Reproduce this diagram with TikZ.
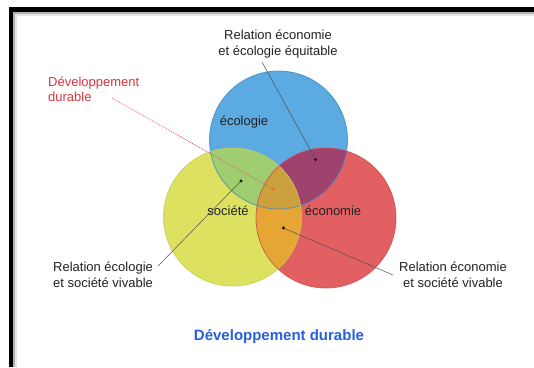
\documentclass[tikz,border=0pt]{standalone}
\usepackage{fontspec}
\setmainfont{Liberation Sans}
\definecolor{cblue}{RGB}{92,170,226}
\definecolor{cyellow}{RGB}{220,226,96}
\definecolor{cred}{RGB}{226,96,98}
\definecolor{cgreen}{RGB}{160,205,112}
\definecolor{cpurple}{RGB}{160,66,110}
\definecolor{corange}{RGB}{230,166,52}
\definecolor{ccenter}{RGB}{205,160,62}
\definecolor{bblue}{RGB}{66,136,196}
\definecolor{byellow}{RGB}{196,204,80}
\definecolor{bred}{RGB}{200,78,80}
\definecolor{txtgray}{RGB}{34,34,34}
\definecolor{redtxt}{RGB}{222,52,64}
\definecolor{bluetxt}{RGB}{40,96,220}
\definecolor{leader}{RGB}{80,80,80}
\begin{document}
\begin{tikzpicture}[x=1bp,y=-1bp,
  lbl/.style={font=\fontsize{13bp}{15.5bp}\selectfont, text=txtgray, inner sep=0pt},
  inlbl/.style={font=\fontsize{13bp}{15bp}\selectfont, text=txtgray, inner sep=0pt},
  dotmark/.style={circle, fill=black, inner sep=0pt, minimum size=3.2bp},
  leaderline/.style={draw=leader, line width=0.5bp},
  redleader/.style={draw=redtxt!80, line width=0.7bp, dash pattern=on 1bp off 1bp}]
\useasboundingbox (0,0) rectangle (534,367);
\fill[white] (0,0) rectangle (534,367);
% frame
\fill[black] (9,7) rectangle (534,12);
\fill[black] (9,7) rectangle (13,367);
\fill[black!30] (13,12) rectangle (534,14);
\fill[black!30] (13,12) rectangle (15,367);
\fill[black!10] (15,14) rectangle (534,16);
\fill[black!10] (15,14) rectangle (17,367);
% circles
\fill[cblue] (278.5,140) circle (69);
\fill[cyellow] (232.5,217) circle (69);
\fill[cred] (326,218) circle (70);
\begin{scope}
  \clip (278.5,140) circle (69);
  \fill[cgreen] (232.5,217) circle (69);
  \fill[cpurple] (326,218) circle (70);
\end{scope}
\begin{scope}
  \clip (232.5,217) circle (69);
  \fill[corange] (326,218) circle (70);
  \clip (278.5,140) circle (69);
  \fill[ccenter] (326,218) circle (70);
\end{scope}
\draw[bblue, line width=0.8bp, opacity=0.8] (278.5,140) circle (69);
\draw[byellow, line width=0.8bp, opacity=0.8] (232.5,217) circle (69);
\draw[bred, line width=0.8bp, opacity=0.8] (326,218) circle (70);
% circle labels
\node[inlbl] (eco) at (244,122) {écologie};
\node[inlbl] (soc) at (228,211) {société};
\node[inlbl] (econ) at (333,211) {économie};
% dots
\node[dotmark] (dEE) at (315.5,159.5) {};
\node[dotmark, fill=orange!90!red] (dDD) at (273,189) {};
\node[dotmark] (dES) at (241,181) {};
\node[dotmark] (dCS) at (283.5,228) {};
% labels
\node[lbl, align=center] (lEE) at (278,44.2) {Relation économie\\et écologie équitable};
\node[lbl, align=left, anchor=west, text=redtxt] (lDD) at (48,89.2) {Développement\\durable};
\node[lbl, align=left, anchor=west] (lES) at (53,274.7) {Relation écologie\\et société vivable};
\node[lbl, align=center] (lCS) at (453,274.7) {Relation économie\\et société vivable};
\node[inner sep=0pt, font=\fontsize{15bp}{17bp}\selectfont\bfseries, text=bluetxt] (title) at (279,337) {Développement durable};
% leader ends
\coordinate (eEE) at (262,62);
\coordinate (eDD) at (112,98);
\coordinate (eES) at (158,266);
\coordinate (eCS) at (393,275);
\draw[leaderline] (eEE) -- (dEE.center);
\draw[redleader] (eDD) -- (dDD.center);
\draw[leaderline] (eES) -- (dES.center);
\draw[leaderline] (eCS) -- (dCS.center);
\end{tikzpicture}
\end{document}
